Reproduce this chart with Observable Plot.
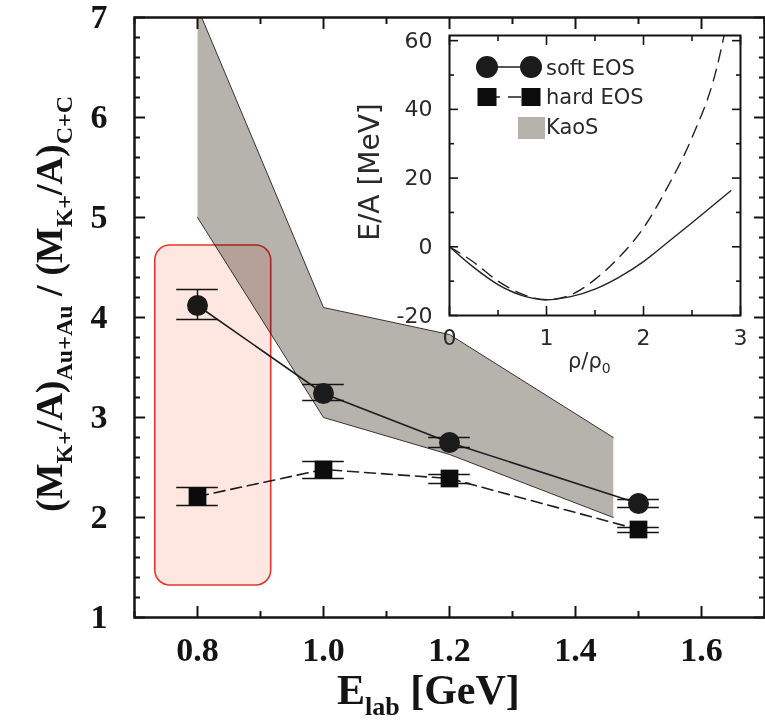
<!DOCTYPE html>
<html><head><meta charset="utf-8">
<script src="https://cdn.jsdelivr.net/npm/d3@7"></script>
<script src="https://cdn.jsdelivr.net/npm/@observablehq/plot@0.6"></script>
<style>
body{margin:0;background:#fff;}
#wrap{position:relative;width:765px;height:723px;overflow:hidden;background:#fff;}
</style></head><body><div id="wrap"></div>
<script>
// ---------- main panel data ----------
const energies = [0.8, 1.0, 1.2, 1.5];
const softRatio = [4.12, 3.24, 2.75, 2.14];
const softLo = [3.98, 3.17, 2.70, 2.10];
const softHi = [4.28, 3.33, 2.80, 2.18];
const hardRatio = [2.21, 2.48, 2.39, 1.88];
const hardLo = [2.12, 2.39, 2.34, 1.85];
const hardHi = [2.30, 2.56, 2.43, 1.90];
const kaosUpperE = [0.8, 1.0, 1.2, 1.46];
const kaosUpper = [7.1, 4.1, 3.83, 2.8];
const kaosLowerE = [0.8, 1.0, 1.2, 1.46];
const kaosLower = [5.0, 3.0, 2.63, 2.0];
const highlightE = [0.733, 0.917];
const highlightR = [1.32, 4.72];
const xMajor = [0.8, 1.0, 1.2, 1.4, 1.6];
const xMinor = [0.7, 0.9, 1.1, 1.3, 1.5, 1.7];
const yMajor = [1, 2, 3, 4, 5, 6, 7];
const yMinor = [1.2,1.4,1.6,1.8,2.2,2.4,2.6,2.8,3.2,3.4,3.6,3.8,4.2,4.4,4.6,4.8,5.2,5.4,5.6,5.8,6.2,6.4,6.6,6.8];

// ---------- inset data ----------
const rho = [0, 0.25, 0.5, 0.75, 1.0, 1.25, 1.5, 1.75, 2.0, 2.25, 2.5, 2.75, 2.9];
const softEA = [0, -6, -11, -14.2, -15.4, -14.5, -12.3, -8.8, -4.3, 1.3, 7.0, 12.8, 16.3];
const rhoHard = [0, 0.25, 0.5, 0.75, 1.0, 1.25, 1.5, 1.75, 2.0, 2.25, 2.5, 2.75, 2.85];
const hardEA = [0, -4.5, -10, -13.8, -15.4, -14, -9.5, -3, 5.5, 17.5, 31.8, 51.5, 64];
const insetXMajor = [0, 1, 2, 3];
const insetXMinor = [0.5, 1.5, 2.5];
const insetYMajor = [-20, 0, 20, 40, 60];
const insetYMinor = [-10, 10, 30, 50];
const legendLabels = ["soft EOS", "hard EOS", "KaoS"];

// ---------- build rows ----------
const soft = energies.map((e, i) => ({e, r: softRatio[i], lo: softLo[i], hi: softHi[i]}));
const hard = energies.map((e, i) => ({e, r: hardRatio[i], lo: hardLo[i], hi: hardHi[i]}));
const upper = kaosUpperE.map((e, i) => ({e, r: kaosUpper[i]}));
const lower = kaosLowerE.map((e, i) => ({e, r: kaosLower[i]}));
const poly = upper.concat(lower.slice().reverse());
const box = [{x1: highlightE[0], x2: highlightE[1], y1: highlightR[0], y2: highlightR[1]}];
const softCurve = rho.map((x, i) => ({x, y: softEA[i]}));
const hardCurve = rhoHard.map((x, i) => ({x, y: hardEA[i]}));

const serif = "Liberation Serif, Times New Roman, serif";
const sans = "DejaVu Sans, sans-serif";
const capHalf = 0.033;
const ink = "#141414";

const tk = (extra) => Object.assign({stroke: ink, strokeWidth: 2, fill: "none", label: null}, extra);

const mainSvg = Plot.plot({
  width: 765, height: 723,
  marginLeft: 134, marginRight: 1, marginTop: 17, marginBottom: 106,
  x: {domain: [0.7, 1.7]},
  y: {domain: [1, 7]},
  style: {background: "transparent", overflow: "visible"},
  marks: [
    Plot.line(poly, {x: "e", y: "r", fill: "#b6b2ac", stroke: "none", curve: "linear-closed", clip: true}),
    Plot.line(upper, {x: "e", y: "r", stroke: "#222", strokeWidth: 0.9, clip: true}),
    Plot.line(lower, {x: "e", y: "r", stroke: "#222", strokeWidth: 0.9, clip: true}),
    Plot.line(soft, {x: "e", y: "r", stroke: "#1e1e1e", strokeWidth: 1.6}),
    Plot.line(hard, {x: "e", y: "r", stroke: "#1e1e1e", strokeWidth: 1.6, strokeDasharray: "11,6"}),
    Plot.ruleX(soft, {x: "e", y1: "lo", y2: "hi", stroke: ink, strokeWidth: 1.5}),
    Plot.ruleX(hard, {x: "e", y1: "lo", y2: "hi", stroke: ink, strokeWidth: 1.5}),
    Plot.ruleY(soft, {y: "lo", x1: d => d.e - capHalf, x2: d => d.e + capHalf, stroke: ink, strokeWidth: 1.5}),
    Plot.ruleY(soft, {y: "hi", x1: d => d.e - capHalf, x2: d => d.e + capHalf, stroke: ink, strokeWidth: 1.5}),
    Plot.ruleY(hard, {y: "lo", x1: d => d.e - capHalf, x2: d => d.e + capHalf, stroke: ink, strokeWidth: 1.5}),
    Plot.ruleY(hard, {y: "hi", x1: d => d.e - capHalf, x2: d => d.e + capHalf, stroke: ink, strokeWidth: 1.5}),
    Plot.dot(soft, {x: "e", y: "r", symbol: "circle", r: 10.5, fill: "#1b1b1b"}),
    Plot.dot(hard, {x: "e", y: "r", symbol: "square", r: 10, fill: "#0c0c0c"}),
    Plot.rect(box, {x1: "x1", x2: "x2", y1: "y1", y2: "y2", rx: 15, fill: "#fee7e1", stroke: "#e2372d", strokeWidth: 1.6, mixBlendMode: "multiply"}),
    Plot.frame({stroke: ink, strokeWidth: 2.5}),
    // inward ticks
    Plot.axisX(xMajor, tk({anchor: "bottom", tickSize: 11, dy: -11})),
    Plot.axisX(xMinor, tk({anchor: "bottom", tickSize: 6, dy: -6})),
    Plot.axisX(xMajor, tk({anchor: "top", tickSize: 11, dy: 11})),
    Plot.axisX(xMinor, tk({anchor: "top", tickSize: 6, dy: 6})),
    Plot.axisY(yMajor, tk({anchor: "left", tickSize: 11, dx: 11})),
    Plot.axisY(yMinor, tk({anchor: "left", tickSize: 6, dx: 6})),
    Plot.axisY(yMajor, tk({anchor: "right", tickSize: 11, dx: -11})),
    Plot.axisY(yMinor, tk({anchor: "right", tickSize: 6, dx: -6})),
    // tick labels
    Plot.axisX(xMajor, {anchor: "bottom", tickSize: 0, tickPadding: 19, tickFormat: d3.format(".1f"), fontSize: 34, fontWeight: "bold", fontFamily: serif, fill: ink, label: null}),
    Plot.axisY(yMajor, {anchor: "left", tickSize: 0, tickPadding: 27, tickFormat: d3.format("d"), fontSize: 34, fontWeight: "bold", fontFamily: serif, fill: ink, label: null})
  ]
});
mainSvg.style.position = "absolute";
mainSvg.style.left = "0px";
mainSvg.style.top = "0px";
document.getElementById("wrap").appendChild(mainSvg);

// axis titles with subscripts
const sm = d3.select(mainSvg);
const yl = sm.append("text")
  .attr("transform", "translate(62,512) rotate(-90)").attr("text-anchor", "start")
  .attr("font-family", serif).attr("font-weight", "bold").attr("font-size", 38).attr("fill", ink);
const yParts = [["(M", 0], ["K+", 1], ["/A)", 0], ["Au+Au", 1], [" / (M", 0], ["K+", 1], ["/A)", 0], ["C+C", 1]];
let prevSub = 0;
yParts.forEach(([t, s]) => {
  const sp = yl.append("tspan").text(t);
  if (s) { sp.attr("font-size", 24).attr("dy", prevSub ? 0 : 10); }
  else { sp.attr("dy", prevSub ? -10 : 0); }
  prevSub = s;
});
const xl = sm.append("text").attr("x", 337).attr("y", 704).attr("text-anchor", "start")
  .attr("font-family", serif).attr("font-weight", "bold").attr("font-size", 42).attr("fill", ink);
xl.append("tspan").text("E");
xl.append("tspan").text("lab").attr("font-size", 26).attr("dy", 11);
xl.append("tspan").text(" [GeV]").attr("dy", -11);

// ---------- inset ----------
const insetLeft = 340;
const itk = (extra) => Object.assign({stroke: ink, strokeWidth: 1.6, fill: "none", label: null}, extra);
const insetSvg = Plot.plot({
  width: 425, height: 370,
  marginLeft: 109, marginRight: 25, marginTop: 35, marginBottom: 55,
  x: {domain: [0, 3]},
  y: {domain: [-20, 61.5]},
  style: {background: "transparent", overflow: "visible"},
  marks: [
    Plot.line(softCurve, {x: "x", y: "y", stroke: "#222", strokeWidth: 1.4, curve: "monotone-x", clip: true}),
    Plot.line(hardCurve, {x: "x", y: "y", stroke: "#222", strokeWidth: 1.4, strokeDasharray: "12,8", curve: "monotone-x", clip: true}),
    Plot.frame({stroke: ink, strokeWidth: 2}),
    Plot.axisX(insetXMajor, itk({anchor: "bottom", tickSize: 9, dy: -9})),
    Plot.axisX(insetXMinor, itk({anchor: "bottom", tickSize: 5, dy: -5})),
    Plot.axisX(insetXMajor, itk({anchor: "top", tickSize: 9, dy: 9})),
    Plot.axisX(insetXMinor, itk({anchor: "top", tickSize: 5, dy: 5})),
    Plot.axisY(insetYMajor, itk({anchor: "left", tickSize: 9, dx: 9})),
    Plot.axisY(insetYMinor, itk({anchor: "left", tickSize: 5, dx: 5})),
    Plot.axisY(insetYMajor, itk({anchor: "right", tickSize: 9, dx: -9})),
    Plot.axisY(insetYMinor, itk({anchor: "right", tickSize: 5, dx: -5})),
    Plot.axisX(insetXMajor, {anchor: "bottom", tickSize: 0, tickPadding: 14, tickFormat: d3.format("d"), fontSize: 22, fontFamily: sans, fill: "#2a2a2a", label: null}),
    Plot.axisY(insetYMajor, {anchor: "left", tickSize: 0, tickPadding: 17, tickFormat: d => String(d), fontSize: 22, fontFamily: sans, fill: "#2a2a2a", label: null})
  ]
});
insetSvg.style.position = "absolute";
insetSvg.style.left = insetLeft + "px";
insetSvg.style.top = "0px";
document.getElementById("wrap").appendChild(insetSvg);

const si = d3.select(insetSvg);
si.append("text").attr("transform", `translate(${379 - insetLeft},172) rotate(-90)`)
  .attr("text-anchor", "middle").attr("font-family", sans).attr("font-size", 28).attr("fill", "#2a2a2a")
  .text("E/A [MeV]");
const rl = si.append("text").attr("x", 568 - insetLeft).attr("y", 368).attr("text-anchor", "start")
  .attr("font-family", sans).attr("font-size", 21).attr("fill", "#2a2a2a");
rl.append("tspan").text("ρ/ρ");
rl.append("tspan").text("0").attr("font-size", 14).attr("dy", 5);

// legend (inside inset)
const lg = si.append("g").attr("transform", `translate(${-insetLeft},0)`);
lg.append("line").attr("x1", 487).attr("x2", 531).attr("y1", 67).attr("y2", 67).attr("stroke", "#1e1e1e").attr("stroke-width", 1.6);
[487, 531].forEach(cx => lg.append("circle").attr("cx", cx).attr("cy", 67).attr("r", 11).attr("fill", "#1b1b1b"));
lg.append("line").attr("x1", 487).attr("x2", 531).attr("y1", 97).attr("y2", 97).attr("stroke", "#1e1e1e").attr("stroke-width", 1.6).attr("stroke-dasharray", "13,8");
[487, 531].forEach(cx => lg.append("rect").attr("x", cx - 9.5).attr("y", 88).attr("width", 19).attr("height", 18).attr("fill", "#0c0c0c"));
lg.append("rect").attr("x", 518).attr("y", 117).attr("width", 27).attr("height", 22).attr("fill", "#b6b2ac");
[[75, legendLabels[0]], [104, legendLabels[1]], [134, legendLabels[2]]].forEach(([y, t]) =>
  lg.append("text").attr("x", 546).attr("y", y).attr("text-anchor", "start").attr("font-family", sans).attr("font-size", 21).attr("fill", "#2a2a2a").text(t));
</script></body></html>
